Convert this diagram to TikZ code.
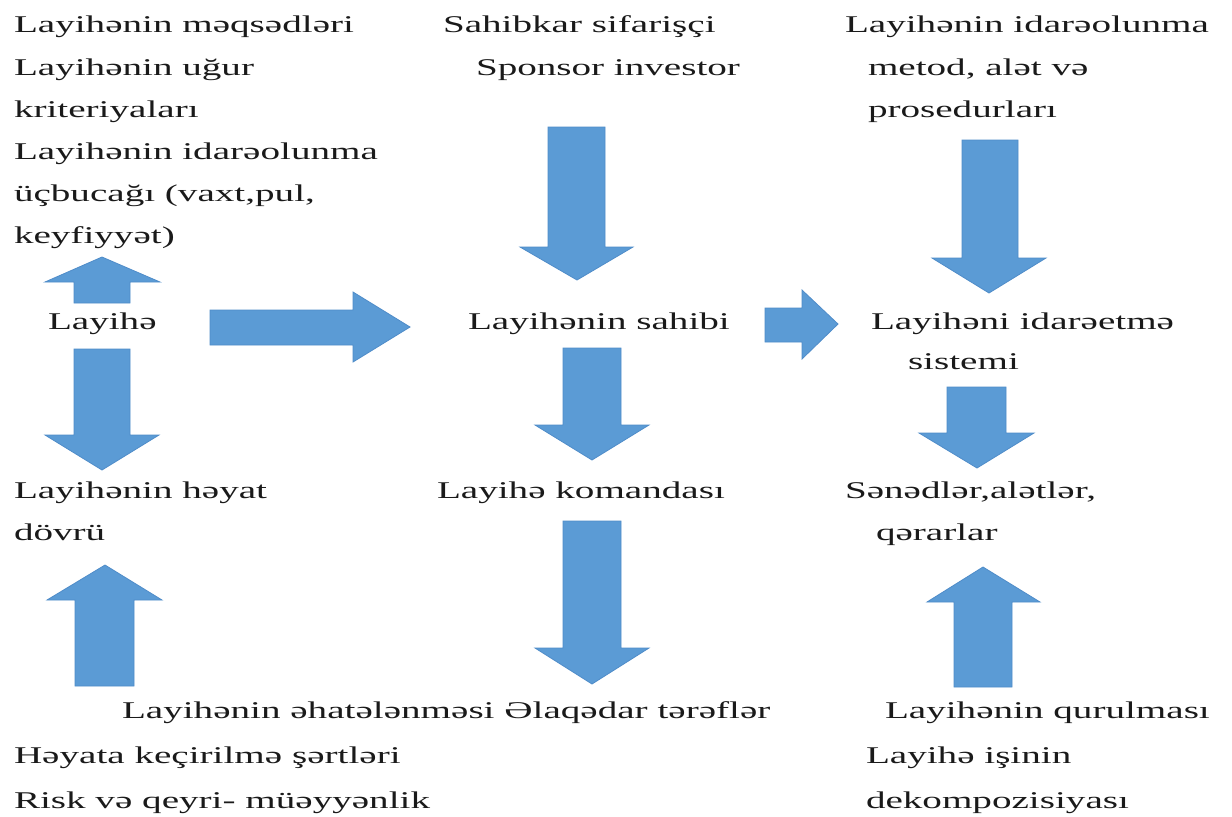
\documentclass[tikz,border=0pt]{standalone}
\usepackage{fontspec}
\setmainfont{Liberation Serif}[FakeStretch=1.63]
\definecolor{arrowblue}{HTML}{5B9BD5}
\definecolor{arrowedge}{HTML}{4F8CC9}
\definecolor{txt}{HTML}{1A1A1A}
\begin{document}
\begin{tikzpicture}[x=0.5pt,y=-0.5pt,
  lbl/.style={anchor=base west,inner sep=0pt,outer sep=0pt,text=txt,font=\fontsize{12}{14}\selectfont},
  blockarrow/.style={fill=arrowblue,draw=arrowedge,line width=0.4pt,line join=miter}]
\useasboundingbox (0,0) rectangle (1232,816);
\fill[white] (0,0) rectangle (1232,816);
% ---- left column
\node[lbl] (l1) at (14,32) {Layihənin məqsədləri};
\node[lbl] (l2) at (14,75) {Layihənin uğur};
\node[lbl] (l3) at (14,117) {kriteriyaları};
\node[lbl] (l4) at (14,159) {Layihənin idarəolunma};
\node[lbl] (l5) at (14,201) {üçbucağı (vaxt,pul,};
\node[lbl] (l6) at (14,243) {keyfiyyət)};
\node[lbl] (lay) at (48,329) {Layihə};
\node[lbl] (hy1) at (14,498) {Layihənin həyat};
\node[lbl] (hy2) at (14,540) {dövrü};
\node[lbl] (bot) at (122,718) {Layihənin əhatələnməsi Əlaqədar tərəflər};
\node[lbl] (hk1) at (14,763) {Həyata keçirilmə şərtləri};
\node[lbl] (hk2) at (14,808) {Risk və qeyri- müəyyənlik};
% ---- middle column
\node[lbl] (s1) at (443,32) {Sahibkar sifarişçi};
\node[lbl] (s2) at (476,75) {Sponsor investor};
\node[lbl] (own) at (468,329) {Layihənin sahibi};
\node[lbl] (team) at (437,498) {Layihə komandası};
% ---- right column
\node[lbl] (r1) at (845,32) {Layihənin idarəolunma};
\node[lbl] (r2) at (868,75) {metod, alət və};
\node[lbl] (r3) at (868,117) {prosedurları};
\node[lbl] (sys1) at (871,329) {Layihəni idarəetmə};
\node[lbl] (sys2) at (908,369) {sistemi};
\node[lbl] (doc1) at (845,498) {Sənədlər,alətlər,};
\node[lbl] (doc2) at (876,540) {qərarlar};
\node[lbl] (q1) at (885,718) {Layihənin qurulması};
\node[lbl] (q2) at (866,763) {Layihə işinin};
\node[lbl] (q3) at (866,808) {dekompozisiyası};
% ---- block arrows
% up above Layihe
\path[blockarrow] (74,303)--(74,282)--(45,282)--(102,257)--(160,282)--(130,282)--(130,303)--cycle;
% down below Layihe
\path[blockarrow] (74,349)--(130,349)--(130,435)--(159,435)--(102,470)--(45,435)--(74,435)--cycle;
% right Layihe -> sahibi
\path[blockarrow] (210,310)--(353,310)--(353,292)--(410,327)--(353,362)--(353,345)--(210,345)--cycle;
% down Sponsor -> sahibi
\path[blockarrow] (548,127)--(605,127)--(605,247)--(633,247)--(577,280)--(520,247)--(548,247)--cycle;
% down sahibi -> komanda
\path[blockarrow] (563,348)--(621,348)--(621,425)--(649,425)--(592,460)--(535,425)--(563,425)--cycle;
% down komanda -> terefler
\path[blockarrow] (563,521)--(621,521)--(621,648)--(649,648)--(592,684)--(535,648)--(563,648)--cycle;
% up bottom-left
\path[blockarrow] (75,686)--(75,600)--(47,600)--(105,565)--(162,600)--(134,600)--(134,686)--cycle;
% right sahibi -> idareetme
\path[blockarrow] (765,308)--(802,308)--(802,290)--(838,324)--(802,359)--(802,342)--(765,342)--cycle;
% down proseduralar -> idareetme
\path[blockarrow] (962,140)--(1018,140)--(1018,258)--(1046,258)--(989,293)--(932,258)--(962,258)--cycle;
% down sistemi -> senedler
\path[blockarrow] (947,387)--(1006,387)--(1006,433)--(1034,433)--(977,468)--(919,433)--(947,433)--cycle;
% up bottom-right
\path[blockarrow] (954,687)--(954,602)--(927,602)--(983,567)--(1040,602)--(1012,602)--(1012,687)--cycle;
\end{tikzpicture}
\end{document}
